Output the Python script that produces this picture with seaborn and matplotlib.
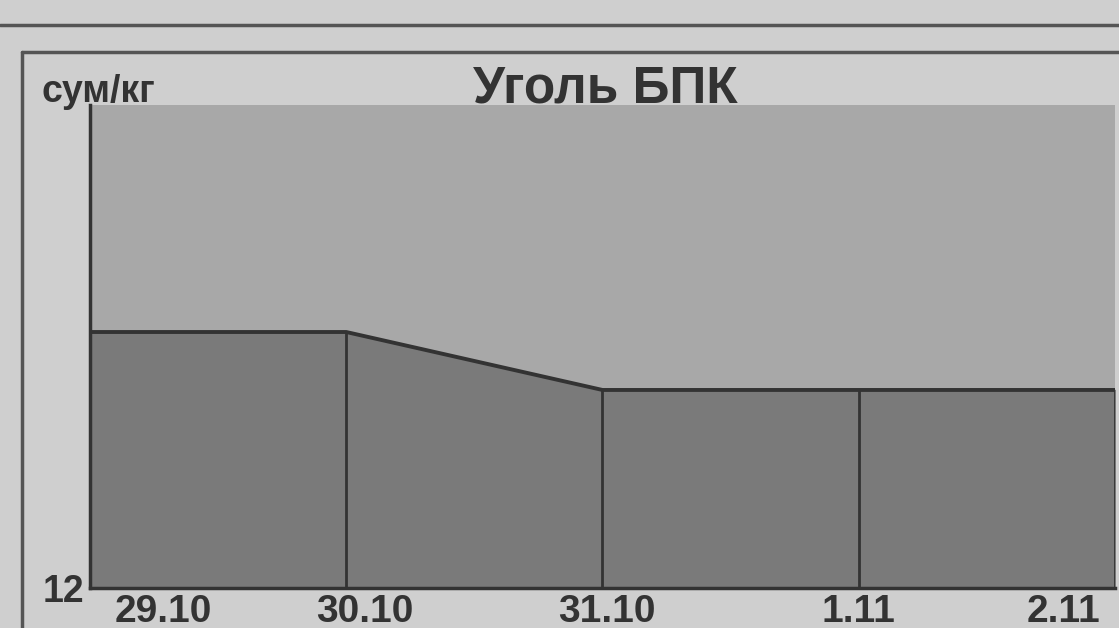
import numpy as np
import pandas as pd
import seaborn as sns
import matplotlib.pyplot as plt
from matplotlib.lines import Line2D
from matplotlib.transforms import ScaledTranslation

dates = ["29.10", "30.10", "31.10", "1.11", "2.11"]
prices = [12.53, 12.53, 12.41, 12.41, 12.41]
y_min, y_max = 12.0, 13.0

df = pd.DataFrame({"pos": np.arange(len(dates)), "price": prices})

sns.set_style("white")
plt.rcParams["font.family"] = ["Liberation Sans", "DejaVu Sans"]

fig = plt.figure(figsize=(11.19, 6.28), dpi=100, facecolor="#cfcfcf")
ax = fig.add_axes([0.0804, 0.0637, 0.9160, 0.7691])
ax.set_facecolor("#a8a8a8")

ink = "#333333"

# filled area under the price line
ax.fill_between(df["pos"], y_min, df["price"], color="#7a7a7a", zorder=1)
sns.lineplot(data=df, x="pos", y="price", ax=ax, color=ink, linewidth=2.8, zorder=3)
# vertical drop lines at each date
ax.vlines(df["pos"], y_min, df["price"], color=ink, linewidth=2, zorder=2)

ax.set_xlim(0, len(dates) - 1)
ax.set_ylim(y_min, y_max)
ax.set_xlabel("")
ax.set_ylabel("")

ax.set_yticks([12])
ax.set_yticklabels(["12"])
ax.set_xticks(df["pos"])
ax.set_xticklabels(dates)
ax.tick_params(axis="both", length=0, labelcolor=ink)
ax.tick_params(axis="x", pad=4, labelsize=28)
ax.tick_params(axis="y", pad=4, labelsize=27)
for lab in ax.get_xticklabels() + ax.get_yticklabels():
    lab.set_fontweight("bold")

# labels in the scan sit a little off their ticks
shifts = [25, 19, 4, 0, -15]
aligns = ["left", "center", "center", "center", "right"]
for lab, dx, ha in zip(ax.get_xticklabels(), shifts, aligns):
    lab.set_ha(ha)
    lab.set_transform(lab.get_transform() + ScaledTranslation(dx / 100, 0, fig.dpi_scale_trans))

for side in ["top", "right"]:
    ax.spines[side].set_visible(False)
for side in ["left", "bottom"]:
    ax.spines[side].set_color(ink)
    ax.spines[side].set_linewidth(2.5)

fig.text(0.5407, 0.836, "Уголь БПК", ha="center", va="baseline",
         fontsize=37, fontweight="bold", color=ink)
fig.text(0.037, 0.838, "сум/кг", ha="left", va="baseline",
         fontsize=27, fontweight="bold", color=ink)

# frame lines of the scanned panel
fig.add_artist(Line2D([0, 1], [1 - 25 / 628, 1 - 25 / 628], color="#555555", linewidth=2.5))
fig.add_artist(Line2D([22 / 1119, 1], [1 - 52 / 628, 1 - 52 / 628], color="#555555", linewidth=2.5))
fig.add_artist(Line2D([22 / 1119, 22 / 1119], [0, 1 - 52 / 628], color="#555555", linewidth=2.5))

fig.savefig("out.png", dpi=100, facecolor=fig.get_facecolor())
